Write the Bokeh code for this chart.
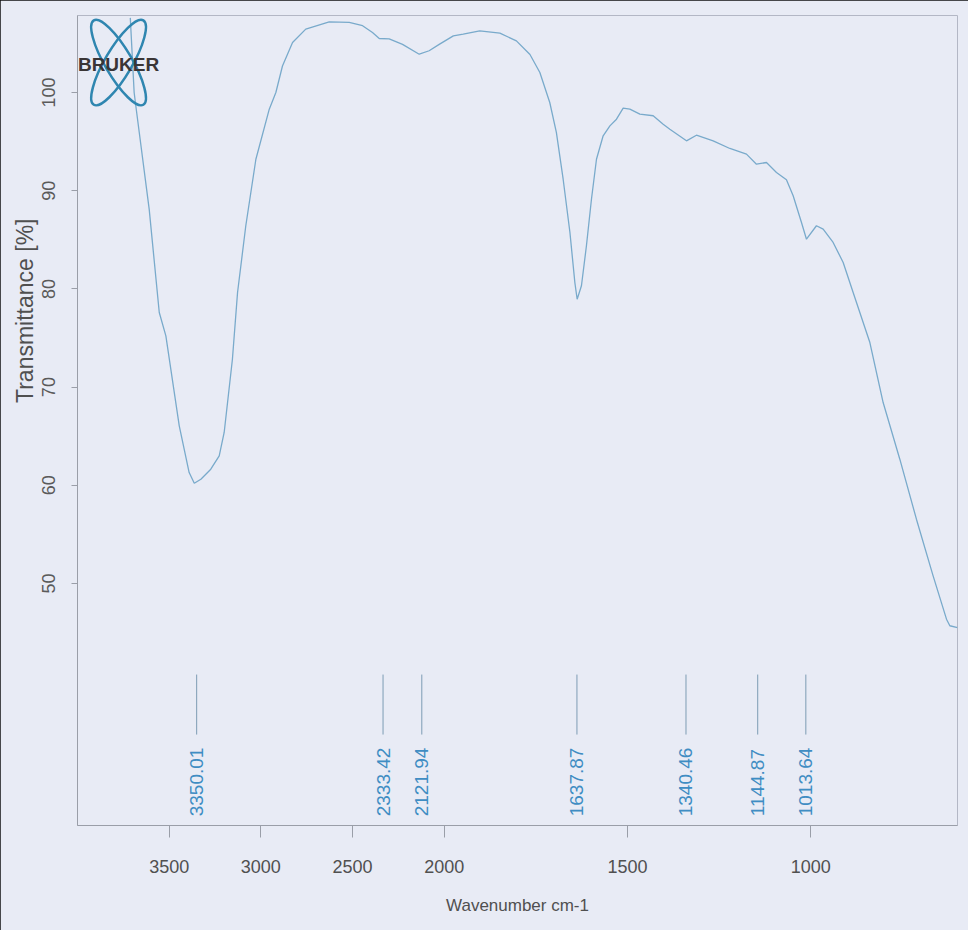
import math
from bokeh.plotting import figure
from bokeh.models import FixedTicker, Range1d, ColumnDataSource, Title
from bokeh.core.properties import value
from bokeh.embed import file_html
from bokeh.resources import INLINE

# ---------------- data ----------------
WAVENUMBER = [3712, 3691, 3682, 3609, 3554, 3518, 3445, 3391, 3363, 3327, 3273, 3227,
              3200, 3155, 3127, 3082, 3027, 2954, 2918, 2882, 2827, 2755, 2627, 2518,
              2445, 2391, 2354, 2300, 2227, 2136, 2082, 2027, 1975, 1948, 1903, 1848,
              1803, 1766, 1739, 1712, 1694, 1675.5, 1657, 1643.6, 1637.3, 1625.6, 1612,
              1598.3, 1584.6, 1566.4, 1548, 1530, 1511.8, 1493.6, 1466.3, 1430, 1402.7,
              1384.5, 1339.2, 1312, 1266.4, 1220.8, 1175.5, 1148.3, 1121, 1093.7, 1066.5,
              1048.2, 1025.5, 1011.9, 984.7, 966.4, 939.2, 911.8, 884.6, 839, 802.8,
              757.3, 712, 666.5, 630, 620.9, 600]
TRANSMITTANCE = [107.6, 100.0, 98.65, 88.12, 77.6, 75.22, 66.06, 61.3, 60.21, 60.62, 61.64, 63.0,
                 65.38, 72.84, 79.63, 86.43, 93.2, 98.3, 100.0, 102.7, 105.09, 106.45, 107.2, 107.13,
                 106.8, 106.1, 105.5, 105.45, 104.9, 103.9, 104.25, 104.9, 105.77, 105.94, 106.28, 106.04,
                 105.26, 103.87, 102.04, 98.98, 95.93, 91.17, 85.74, 80.65, 78.95, 80.32, 84.39,
                 89.13, 93.2, 95.59, 96.6, 97.28, 98.4, 98.3, 97.79, 97.63, 96.77,
                 96.26, 95.08, 95.65, 95.08, 94.3, 93.72, 92.7, 92.87, 91.85, 91.11,
                 89.48, 86.76, 85.06, 86.43, 86.08, 84.73, 82.69, 79.63, 74.54, 68.43,
                 62.66, 56.55, 50.78, 46.37, 45.7, 45.5]
PEAKS = [3350.01, 2333.42, 2121.94, 1637.87, 1340.46, 1144.87, 1013.64]
X_TICKS = [3500, 3000, 2500, 2000, 1500, 1000]
Y_TICKS = [50, 60, 70, 80, 90, 100]
X_MAX, X_BREAK, X_MIN = 4000, 2000, 600
Y_MIN, Y_MAX = 25.36, 107.84


def to_axis(w):
    """Bruker-style axis: below 2000 cm-1 the scale is expanded 2x."""
    if w >= X_BREAK:
        return X_MAX - w
    return (X_MAX - X_BREAK) + 2 * (X_BREAK - w)


BG = "#e8ebf5"
LINE = "#79aacb"
PEAK_COL = "#3f8dc3"
TXT = "#505050"
SANS = "'Liberation Sans', Arial, sans-serif"

p = figure(width=968, height=930, output_backend="svg", toolbar_location=None,
           x_range=Range1d(to_axis(X_MAX), to_axis(X_MIN)), y_range=Range1d(Y_MIN, Y_MAX),
           min_border_left=77, min_border_right=11, min_border_top=15, min_border_bottom=105)
p.styles = {"outline": "1px solid #111111", "outline-offset": "-1px"}
p.background_fill_color = BG
p.border_fill_color = BG
p.outline_line_color = "#b3b7c5"
p.xgrid.visible = False
p.ygrid.visible = False

# spectrum
src = ColumnDataSource(dict(x=[to_axis(w) for w in WAVENUMBER], y=TRANSMITTANCE))
p.line("x", "y", source=src, line_color=LINE, line_width=1.3)

# peak markers and labels
LINE_TOP, LINE_BOTTOM, LABEL_Y = 40.73, 34.62, 26.3
pk = ColumnDataSource(dict(x=[to_axis(w) for w in PEAKS],
                           y0=[LINE_TOP] * len(PEAKS), y1=[LINE_BOTTOM] * len(PEAKS),
                           yl=[LABEL_Y] * len(PEAKS),
                           t=["%.2f" % w for w in PEAKS]))
p.segment(x0="x", y0="y0", x1="x", y1="y1", source=pk, line_color="#7d9cb4", line_width=1)
p.text(x="x", y="yl", text="t", source=pk, angle=math.pi / 2, text_align="left",
       text_baseline="middle", text_color=PEAK_COL, text_font=value(SANS),
       text_font_size="19px")

# x axis
xa = p.xaxis[0]
xa.ticker = FixedTicker(ticks=[to_axis(w) for w in X_TICKS])
xa.major_label_overrides = {to_axis(w): str(w) for w in X_TICKS}
xa.minor_tick_line_color = None
xa.major_tick_in = 0
xa.major_tick_out = 12
xa.major_tick_line_color = "#9a9ea8"
xa.axis_line_color = "#9a9ea8"
xa.major_label_text_font = SANS
xa.major_label_text_font_size = "18px"
xa.major_label_text_color = TXT
xa.major_label_standoff = 22
xa.axis_label = "Wavenumber cm-1"
xa.axis_label_text_font = SANS
xa.axis_label_text_font_size = "17px"
xa.axis_label_text_font_style = "normal"
xa.axis_label_text_color = TXT
xa.axis_label_standoff = 20

# y axis
ya = p.yaxis[0]
ya.ticker = FixedTicker(ticks=Y_TICKS)
ya.minor_tick_line_color = None
ya.major_tick_in = 0
ya.major_tick_out = 6
ya.major_tick_line_color = "#9a9ea8"
ya.axis_line_color = "#9a9ea8"
ya.major_label_orientation = "vertical"
ya.major_label_text_font = SANS
ya.major_label_text_font_size = "18px"
ya.major_label_text_color = "#5a5a5a"
ya.major_label_standoff = 16

ylab = Title(text="Transmittance [%]", align="right", offset=203, standoff=3,
             text_font=SANS, text_font_size="23px", text_font_style="normal",
             text_color=TXT)
p.add_layout(ylab, "left")

# Bruker logo
LOGO_X, LOGO_Y = 224, 103.05
p.ellipse(x=[LOGO_X, LOGO_X], y=[LOGO_Y, LOGO_Y], width=27, height=98,
          angle=[0.53, -0.53], width_units="screen", height_units="screen",
          fill_alpha=0, line_color="#2f86b0", line_width=2.5)
p.text(x=[LOGO_X], y=[LOGO_Y - 0.15], text=["BRUKER"], text_align="center",
       text_baseline="middle", text_color="#3a3536", text_font=value(SANS),
       text_font_style="bold", text_font_size="19px")

open("out.html", "w").write(file_html(p, INLINE))
